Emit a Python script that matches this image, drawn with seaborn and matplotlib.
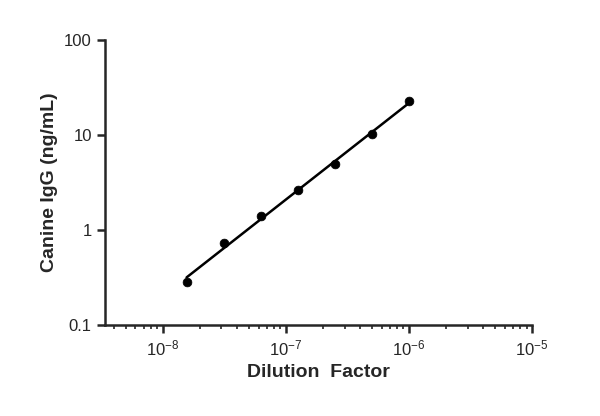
import numpy as np
import pandas as pd
import matplotlib
matplotlib.use("Agg")
import matplotlib.pyplot as plt
import seaborn as sns

# data
dilution = [1.5625e-8, 3.125e-8, 6.25e-8, 1.25e-7, 2.5e-7, 5e-7, 1e-6]
igg = [0.28, 0.72, 1.4, 2.6, 5.0, 10.2, 22.5]

df = pd.DataFrame({"dilution": dilution, "igg": igg})

sns.set_style("ticks")
plt.rcParams['font.family'] = ['Liberation Sans', 'DejaVu Sans']

fig = plt.figure(figsize=(6, 4.16), dpi=100)
ax = fig.add_axes([0.175, 0.219, 0.712, 0.685])

# log-log linear fit
lx, ly = np.log10(df["dilution"]), np.log10(df["igg"])
k, b = np.polyfit(lx, ly, 1)
fx = np.linspace(lx.min(), lx.max(), 50)
ax.plot(10 ** fx, 10 ** (k * fx + b), color="black", lw=1.8)

sns.scatterplot(data=df, x="dilution", y="igg", ax=ax, color="black",
                s=40, edgecolor="black", zorder=3)

ax.set_xscale("log")
ax.set_yscale("log")
ax.set_xlim(3.4e-9, 1e-5)
ax.set_ylim(0.1, 100)
ax.set_xticks([1e-8, 1e-7, 1e-6, 1e-5])
ax.set_yticks([0.1, 1, 10, 100])
ax.set_yticklabels(["0.1", "1", "10", "100"])
ax.yaxis.set_minor_locator(matplotlib.ticker.NullLocator())
for s in ["top", "right"]:
    ax.spines[s].set_visible(False)
for s in ["left", "bottom"]:
    ax.spines[s].set_linewidth(1.8)
ax.tick_params(which="major", width=1.8, length=6, labelsize=12)
ax.tick_params(which="minor", width=1.2, length=3)
ax.set_xlabel("Dilution  Factor", fontsize=14, fontweight="bold")
ax.set_ylabel("Canine IgG (ng/mL)", fontsize=14, fontweight="bold")

fig.savefig("out.png", dpi=100)
